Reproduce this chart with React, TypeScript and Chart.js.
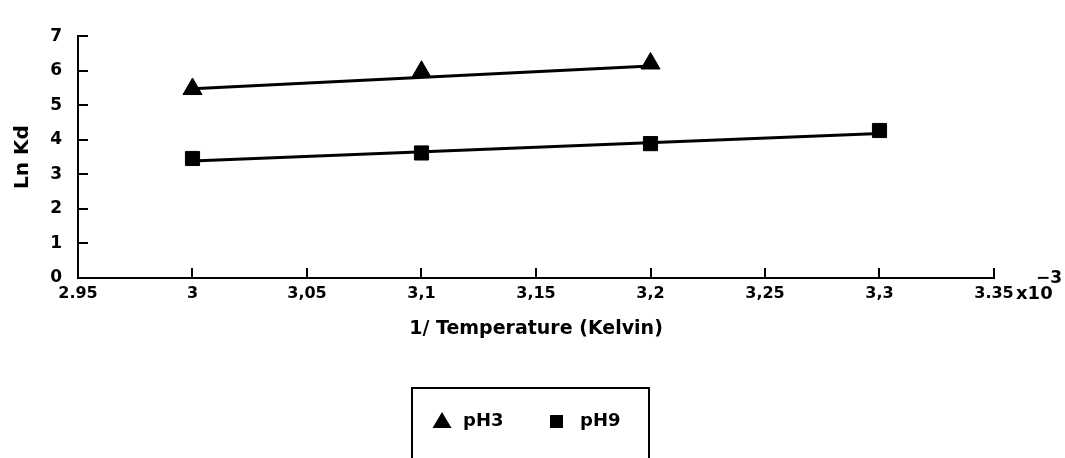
import React, { useEffect, useRef } from "react";
import { Chart, registerables } from "chart.js";

Chart.register(...registerables);

// ---- data ----
const xTickValues = [2.95, 3, 3.05, 3.1, 3.15, 3.2, 3.25, 3.3, 3.35];
const xTickLabels = ["2.95", "3", "3,05", "3,1", "3,15", "3,2", "3,25", "3,3", "3.35"];
const yTickValues = [0, 1, 2, 3, 4, 5, 6, 7];

const ph3X = [3.0, 3.1, 3.2];
const ph3Y = [5.47, 5.97, 6.21];
const ph3FitX = [3.0, 3.2];
const ph3FitY = [5.48, 6.14];

const ph9X = [3.0, 3.1, 3.2, 3.3];
const ph9Y = [3.46, 3.62, 3.89, 4.27];
const ph9FitX = [3.0, 3.3];
const ph9FitY = [3.39, 4.18];

const seriesNames = ["pH3", "pH9"];
const xTitle = "1/ Temperature (Kelvin)";
const yTitle = "Ln Kd";
const xMultiplier = "x10";
const xMultiplierExp = "\u22123";

const FONT = '"DejaVu Sans", sans-serif';

const zip = (xs: number[], ys: number[]) => xs.map((x, i) => ({ x, y: ys[i] }));

const extrasPlugin = {
  id: "extras",
  afterDraw(chart: any) {
    const ctx = chart.ctx as CanvasRenderingContext2D;
    ctx.save();
    ctx.fillStyle = "#000";
    ctx.strokeStyle = "#000";
    // multiplier label
    ctx.font = `bold 18px ${FONT}`;
    ctx.textBaseline = "middle";
    ctx.textAlign = "left";
    ctx.fillText(xMultiplier, 1016, 294);
    ctx.font = `bold 17px ${FONT}`;
    ctx.fillText(xMultiplierExp, 1036, 279);

    // legend box
    ctx.lineWidth = 2;
    ctx.strokeRect(412, 388, 237, 90);
    // triangle
    ctx.beginPath();
    ctx.moveTo(442, 412);
    ctx.lineTo(451.5, 428);
    ctx.lineTo(432.5, 428);
    ctx.closePath();
    ctx.fill();
    ctx.font = `bold 18px ${FONT}`;
    ctx.textBaseline = "middle";
    ctx.fillText(seriesNames[0], 463, 421);
    // square
    ctx.beginPath();
    ctx.rect(550, 415, 13, 13);
    ctx.fill();
    ctx.fillText(seriesNames[1], 580, 421);
    ctx.restore();
  },
};

export default function App() {
  const ref = useRef<HTMLCanvasElement | null>(null);

  useEffect(() => {
    if (!ref.current) return;
    const chart = new Chart(ref.current, {
      type: "scatter",
      data: {
        datasets: [
          {
            label: seriesNames[0] + " fit",
            data: zip(ph3FitX, ph3FitY),
            showLine: true,
            borderColor: "#000",
            borderWidth: 3,
            pointRadius: 0,
          },
          {
            label: seriesNames[1] + " fit",
            data: zip(ph9FitX, ph9FitY),
            showLine: true,
            borderColor: "#000",
            borderWidth: 3,
            pointRadius: 0,
          },
          {
            label: seriesNames[0],
            data: zip(ph3X, ph3Y),
            showLine: false,
            pointStyle: "triangle",
            pointRadius: 11,
            backgroundColor: "#000",
            borderColor: "#000",
            borderWidth: 1,
          },
          {
            label: seriesNames[1],
            data: zip(ph9X, ph9Y),
            showLine: false,
            pointStyle: "rect",
            pointRadius: 10,
            backgroundColor: "#000",
            borderColor: "#000",
            borderWidth: 1,
          },
        ],
      },
      options: {
        animation: false,
        responsive: false,
        layout: { padding: { left: 0, top: 24, right: 71, bottom: 117.6 } },
        plugins: { legend: { display: false }, tooltip: { enabled: false } },
        scales: {
          x: {
            type: "linear",
            min: 2.95,
            max: 3.35,
            afterBuildTicks: (scale: any) => {
              scale.ticks = xTickValues.map((v) => ({ value: v }));
            },
            afterFit: (scale: any) => {
              scale.height = 62.4;
            },
            ticks: {
              color: "#000",
              font: { family: FONT, size: 16, weight: "bold" },
              padding: 16,
              maxRotation: 0,
              autoSkip: false,
              callback: (v: any) => {
                const i = xTickValues.findIndex((t) => Math.abs(t - Number(v)) < 1e-6);
                return i >= 0 ? xTickLabels[i] : "";
              },
            },
            grid: { drawOnChartArea: false, tickLength: -10, color: "#000", lineWidth: 2 },
            border: { display: true, color: "#000", width: 2 },
            title: {
              display: true,
              text: xTitle,
              color: "#000",
              font: { family: FONT, size: 19, weight: "bold" },
              padding: { top: 0, bottom: 0 },
            },
          },
          y: {
            type: "linear",
            min: 0,
            max: 7,
            afterBuildTicks: (scale: any) => {
              scale.ticks = yTickValues.map((v) => ({ value: v }));
            },
            afterFit: (scale: any) => {
              scale.width = 78;
            },
            ticks: {
              color: "#000",
              font: { family: FONT, size: 17, weight: "bold" },
              padding: 26,
            },
            grid: { drawOnChartArea: false, tickLength: -10, color: "#000", lineWidth: 2 },
            border: { display: true, color: "#000", width: 2 },
            title: {
              display: true,
              text: yTitle,
              color: "#000",
              font: { family: FONT, size: 20, weight: "bold" },
              padding: { top: 11, bottom: 0 },
            },
          },
        },
      },
      plugins: [extrasPlugin],
    } as any);
    return () => chart.destroy();
  }, []);

  return (
    <div style={{ position: "fixed", left: 0, top: 0, width: 1065, height: 458, background: "#fff" }}>
      <canvas ref={ref} width={1065} height={458} style={{ display: "block" }} />
    </div>
  );
}
